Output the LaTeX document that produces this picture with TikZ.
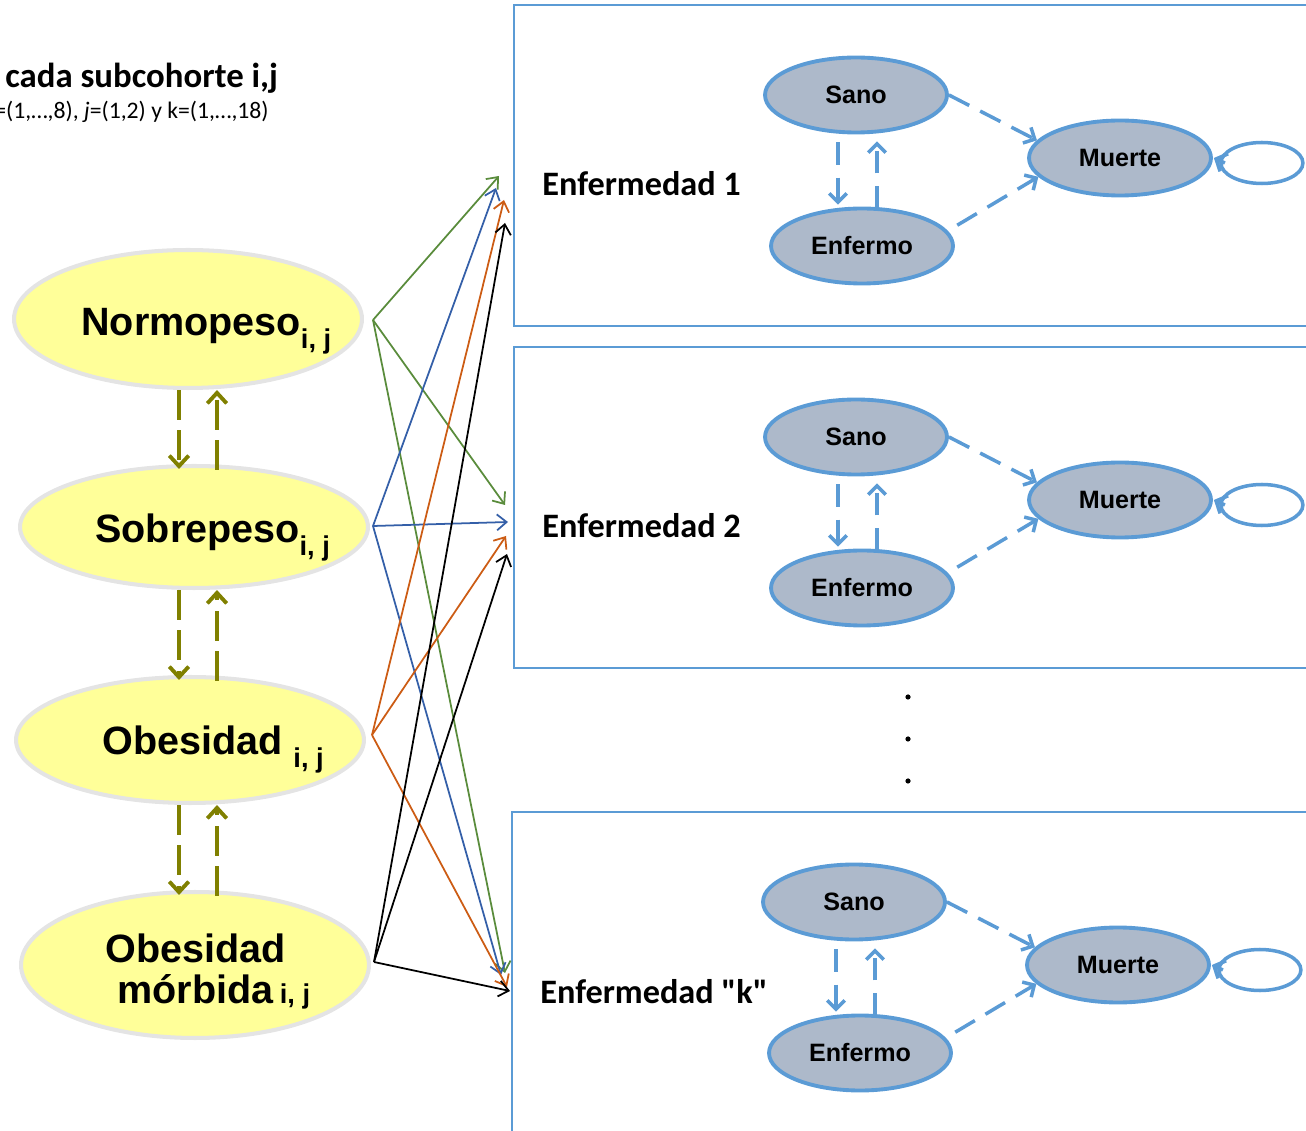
\documentclass[tikz,border=0pt]{standalone}
\usepackage{fontspec}
\setmainfont{Liberation Sans}
\newfontfamily\calibri{Carlito}
\usetikzlibrary{arrows.meta,positioning,calc,shapes.geometric}

\definecolor{cajaazul}{RGB}{91,155,213}
\definecolor{grisestado}{RGB}{173,185,202}
\definecolor{amarillo}{RGB}{255,255,153}
\definecolor{bordeamarillo}{RGB}{228,228,228}
\definecolor{olivo}{RGB}{128,128,0}
\definecolor{verde}{RGB}{90,140,60}
\definecolor{azul}{RGB}{52,95,168}
\definecolor{naranja}{RGB}{204,92,20}

\newcommand{\subij}{\raisebox{-7.4pt}{\fontsize{15.5}{16}\selectfont i, j}}

\begin{document}
\begin{tikzpicture}[x=0.02cm, y=-0.02cm,
    peso/.style={ellipse, draw=bordeamarillo, line width=2.3pt, fill=amarillo, minimum width=6.96cm, inner sep=0pt},
    pesotxt/.style={anchor=base west, inner sep=0pt, font=\fontsize{22.5}{27}\selectfont\bfseries},
    estado/.style={ellipse, draw=cajaazul, line width=2.2pt, fill=grisestado, minimum width=3.64cm, minimum height=1.5cm, inner sep=0pt, font=\fontsize{14.3}{17}\selectfont\bfseries},
    caja/.style={draw=cajaazul, line width=1.1pt},
    trans/.style={cajaazul, line width=2pt, dash pattern=on 13pt off 7pt, -{Straight Barb[length=5pt,width=10pt]}},
    lazo/.style={cajaazul, line width=2pt},
    cambio/.style={olivo, line width=2.2pt, dash pattern=on 17pt off 6pt, -{Straight Barb[length=6pt,width=11pt]}},
    flecha/.style={line width=1pt, -{Straight Barb[length=5.5pt,width=9pt]}}]

    \useasboundingbox (0,0) rectangle (1306,1131);

    % Titulo (cortado a la izquierda)
    \node[anchor=base west, inner sep=0pt, font=\calibri\bfseries\fontsize{19.8}{23}\selectfont] (titulo) at (5,88) {cada subcohorte i,j};
    \node[anchor=base west, inner sep=0pt, font=\calibri\fontsize{13.5}{16}\selectfont] (indices) at (-6,119) {=(1,…,8), \textit{j}=(1,2) y k=(1,…,18)};

    % Estados de peso
    \node[peso, minimum height=2.76cm] (normo) at (188,319) {};
    \node[peso, minimum height=2.44cm] (sobre) at (194,527) {};
    \node[peso, minimum height=2.52cm] (obes) at (190,740) {};
    \node[peso, minimum height=2.92cm] (morb) at (195,965) {};
    \node[pesotxt] (normo-txt) at (81,336) {Normopeso\subij};
    \node[pesotxt] (sobre-txt) at (95,543) {Sobrepeso\subij};
    \node[pesotxt] (obes-txt) at (102,755) {Obesidad \subij};
    \node[pesotxt] (morb-txt1) at (105,962) {Obesidad};
    \node[pesotxt] (morb-txt2) at (117,1003) {mórbida\,{\fontsize{15.5}{16}\selectfont i, j}};

    % Cambios entre estados de peso
    \coordinate (bajada) at (179,0);
    \coordinate (subida) at (217,0);
    \foreach \a/\b in {normo/sobre, sobre/obes, obes/morb} {
        \draw[cambio, shorten >=-0.1cm] (bajada |- \a.south) -- (bajada |- \b.north);
        \draw[cambio] ($(subida |- \b.north)+(0,6)$) -- (subida |- \a.south);
    }

    % Modulos de enfermedad
    \foreach \k/\dx/\dy/\nombre in {1/0/0/{Enfermedad 1}, 2/0/342/{Enfermedad 2}, 3/-2/807/{Enfermedad "k"}} {
        \begin{scope}[shift={(\dx,\dy)}]
            \draw[caja] (514,5) rectangle (1330,326);
            \node[anchor=base west, inner sep=0pt, font=\calibri\bfseries\fontsize{19.5}{23}\selectfont] (enf\k) at (542,196) {\nombre};
            \node[estado] (sano\k) at (856,95) {Sano};
            \node[estado] (muerte\k) at (1120,158) {Muerte};
            \node[estado] (enfermo\k) at (862,246) {Enfermo};
            \draw[trans] (sano\k.east) -- (muerte\k.168);
            \draw[trans, shorten <=0.22cm] (enfermo\k.10) -- (muerte\k.193);
            \draw[trans] ($(sano\k.south)+(-18,8)$) -- ($(enfermo\k.north)+(-24,-2)$);
            \draw[trans] ($(enfermo\k.north)+(15,2)$) -- ($(sano\k.south)+(21,7)$);
            % bucle de Muerte
            \draw[lazo] ($(muerte\k.east)+(49,5)$) ellipse [x radius=41, y radius=20.5];
            \draw[lazo, -{Straight Barb[length=5pt,width=11pt]}] ($(muerte\k.east)+(12,5)$) -- ($(muerte\k.east)+(1,0)$);
        \end{scope}
    }

    % Puntos suspensivos
    \foreach \y in {697,739,781}
        \fill (908,\y) circle (2.6);

    % Salidas y llegadas
    \coordinate (normo-sal) at (373,320);
    \coordinate (sobre-sal) at (373,526);
    \coordinate (obes-sal) at (372,735);
    \coordinate (morb-sal) at (374,962);
    \coordinate (normo-1) at (499,176);
    \coordinate (normo-2) at (505,505);
    \coordinate (normo-3) at (505,973);
    \coordinate (sobre-1) at (496,188);
    \coordinate (sobre-2) at (508,522);
    \coordinate (sobre-3) at (501,975);
    \coordinate (obes-1) at (504,200);
    \coordinate (obes-2) at (506,536);
    \coordinate (obes-3) at (507,987);
    \coordinate (morb-1) at (505,223);
    \coordinate (morb-2) at (507,554);
    \coordinate (morb-3) at (510,991);
    \foreach \p/\c in {normo/verde, sobre/azul, obes/naranja, morb/black}
        \foreach \k in {1,2,3}
            \draw[flecha, \c] (\p-sal) -- (\p-\k);
\end{tikzpicture}
\end{document}
